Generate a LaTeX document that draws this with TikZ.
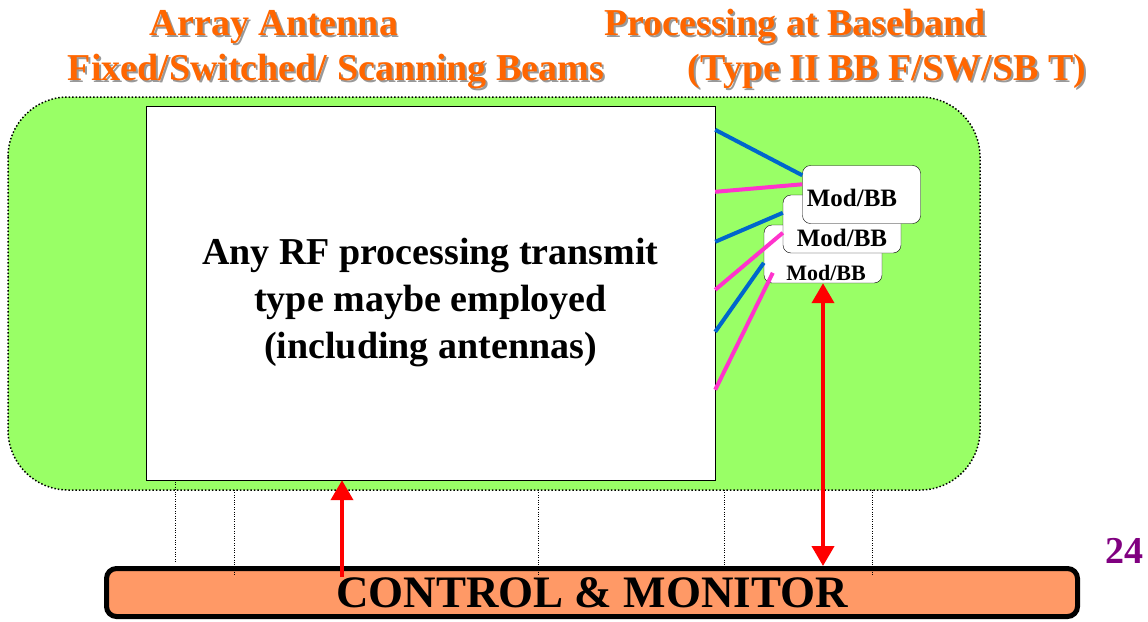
\documentclass[tikz,border=0pt]{standalone}
\usepackage{fontspec}
\setmainfont{Liberation Serif}
\definecolor{leafgreen}{HTML}{99FF66}
\definecolor{titleorange}{HTML}{FF6600}
\definecolor{ctrlorange}{HTML}{FF9966}
\definecolor{bbblue}{HTML}{0066CC}
\definecolor{bbpink}{HTML}{FF33CC}
\definecolor{pagepurple}{HTML}{800080}
\usetikzlibrary{arrows.meta,positioning,calc}
\newcommand{\shadowtext}[1]{\rlap{\textcolor{black!40}{\raisebox{-2pt}[0pt][0pt]{\hspace*{2pt}#1}}}#1}

\begin{document}
\begin{tikzpicture}[x=1pt,y=-1pt,
  titletext/.style={titleorange,font=\fontsize{38}{40}\selectfont\bfseries,anchor=base,inner sep=0pt},
  modbox/.style={draw=black,fill=white,rounded corners=8pt,minimum width=118pt,minimum height=58pt,inner sep=0pt,font=\fontsize{25}{25}\selectfont\bfseries},
  redarrow/.style={red,line width=4pt,-{Triangle[length=20pt,width=22pt]}}]
  \useasboundingbox (0,0) rectangle (1148,621);
  % Titles
  \node[titletext] (ant1) at (274,35) {\shadowtext{Array Antenna}};
  \node[titletext] (ant2) at (336,80) {\shadowtext{Fixed/Switched/ Scanning Beams}};
  \node[titletext] (bb1) at (795,35) {\shadowtext{Processing at Baseband}};
  \node[titletext] (bb2) at (887,80) {\shadowtext{(Type II BB F/SW/SB T)}};
  % Green region
  \draw[fill=leafgreen, dotted, line width=1.5pt, rounded corners=60pt] (8,97) rectangle (980,490);
  % RF processing block
  \node[draw,fill=white,minimum width=569pt,minimum height=374pt,align=center,
        font=\fontsize{38}{47}\selectfont\bfseries] (rf) at (430.5,293)
    {\rule{0pt}{46pt}Any RF processing transmit\\type maybe employed\\(including antennas)};
  % Modem / baseband stack
  \node[modbox] (mod3) at (823,254)
    {\raisebox{-26pt}[0pt][0pt]{\fontsize{22}{22}\selectfont\hspace*{6pt}Mod/BB}};
  \node[modbox] (mod2) at (842,224) {\raisebox{-22pt}[0pt][0pt]{Mod/BB}};
  \node[modbox] (mod1) at (861.5,194.5) {\raisebox{-11.5pt}[0pt][0pt]{\hspace*{-19pt}Mod/BB}};
  % Beam feeds
  \foreach \ya/\m/\dx/\dy/\col in {24/mod1/0/10/bbblue, 86/mod1/0/19/bbpink,
      136/mod2/0/18/bbblue, 184/mod2/0/38/bbpink,
      226/mod3/0/38/bbblue, 284/mod3/9/48/bbpink} {
    \draw[\col, line width=4pt] ($(rf.north east)+(0,\ya)$) -- ($(\m.north west)+(\dx,\dy)$);
  }
  % Control bar
  \node[draw=black,line width=5pt,fill=ctrlorange,rounded corners=10pt,
        minimum width=971pt,minimum height=48pt,
        font=\fontsize{45}{45}\selectfont\bfseries] (ctrl) at (592,592.5) {CONTROL \& MONITOR};
  \foreach \x/\ya/\yb in {175/482/563, 234/490/575, 538/490/575, 724/490/565, 872/490/575} {
    \draw[dotted, thin] (\x,\ya) -- (\x,\yb);
  }
  % Control links
  \coordinate (ctl1) at (342,577);
  \draw[redarrow] (ctl1) -- (ctl1 |- rf.south);
  \draw[redarrow, {Triangle[length=20pt,width=22pt]}-{Triangle[length=20pt,width=22pt]}]
    (mod3.south) -- (mod3.south |- ctrl.north);
  \node[pagepurple,font=\fontsize{38}{38}\selectfont\bfseries] (pagenum) at (1124,551) {24};
\end{tikzpicture}
\end{document}
